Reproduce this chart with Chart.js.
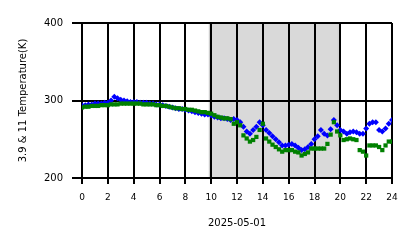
<!DOCTYPE html>
<html>
<head>
<meta charset="utf-8">
<script src="https://cdn.jsdelivr.net/npm/chart.js@4"></script>
<style>
html,body{margin:0;padding:0;background:#fff;}
#c{display:block;}
</style>
</head>
<body>
<canvas id="c" width="418" height="248"></canvas>
<script>
const hours = [0,0.25,0.5,0.75,1,1.25,1.5,1.75,2,2.25,2.5,2.75,3,3.25,3.5,3.75,4,4.25,4.5,4.75,5,5.25,5.5,5.75,6,6.25,6.5,6.75,7,7.25,7.5,7.75,8,8.25,8.5,8.75,9,9.25,9.5,9.75,10,10.25,10.5,10.75,11,11.25,11.5,11.75,12,12.25,12.5,12.75,13,13.25,13.5,13.75,14,14.25,14.5,14.75,15,15.25,15.5,15.75,16,16.25,16.5,16.75,17,17.25,17.5,17.75,18,18.25,18.5,18.75,19,19.25,19.5,19.75,20,20.25,20.5,20.75,21,21.25,21.5,21.75,22,22.25,22.5,22.75,23,23.25,23.5,23.75,24];

const temp39 = [294,294,295,295,296,296,296,297,297,300,305,303,301,300,299,298,298,298,297,297,297,296,296,295,295,294,293,292,291,290,289,289,288,287,286,285,284,283,282,282,281,279,278,277,277,276,275,276,275,272,266,260,257,262,266,272,268,262,258,254,250,246,242,242,243,244,242,239,236,237,240,244,250,254,262,257,255,263,275,268,262,260,257,259,260,259,257,257,264,270,272,272,262,260,264,270,275];

const temp11 = [291,292,292,293,293,293,294,294,294,295,295,295,296,296,296,296,296,296,296,295,295,295,295,294,294,293,293,292,291,290,290,289,289,288,288,287,286,285,285,284,283,281,279,278,277,277,276,270,272,268,255,251,247,249,253,262,270,251,247,243,240,237,234,236,236,236,234,233,229,231,233,238,238,238,238,238,244,256,272,260,255,249,250,251,250,249,236,234,229,242,242,242,240,236,242,247,247];

const xTicks = [0,2,4,6,8,10,12,14,16,18,20,22,24];
const yTicks = [200,300,400];
const shadeStart = 9.85;
const shadeEnd = 19.85;

const pts = arr => arr.map((v,i) => ({x: hours[i], y: v}));

const shadePlugin = {
  id: 'shade',
  beforeDraw(chart) {
    const {ctx, chartArea, scales} = chart;
    const x0 = scales.x.getPixelForValue(shadeStart);
    const x1 = scales.x.getPixelForValue(shadeEnd);
    ctx.save();
    ctx.fillStyle = 'rgba(128,128,128,0.3)';
    ctx.fillRect(x0, chartArea.top, x1 - x0, chartArea.bottom - chartArea.top);
    ctx.strokeStyle = 'rgba(128,128,128,0.3)';
    ctx.lineWidth = 1;
    ctx.strokeRect(x0, chartArea.top, x1 - x0, chartArea.bottom - chartArea.top);
    ctx.restore();
  }
};

new Chart(document.getElementById('c'), {
  type: 'scatter',
  data: {
    datasets: [
      {
        label: '11',
        data: pts(temp11),
        pointStyle: 'rect',
        pointRadius: 3,
        pointBackgroundColor: '#008000',
        pointBorderColor: '#008000',
        pointBorderWidth: 0,
        showLine: false
      },
      {
        label: '3.9',
        data: pts(temp39),
        pointStyle: 'rectRot',
        pointRadius: 3,
        pointBackgroundColor: '#0000ff',
        pointBorderColor: '#0000ff',
        pointBorderWidth: 0,
        showLine: false
      }
    ]
  },
  options: {
    responsive: false,
    animation: false,
    devicePixelRatio: 1,
    layout: {padding: {top: 23, right: 26, bottom: 0, left: 0}},
    plugins: {legend: {display: false}, tooltip: {enabled: false}},
    scales: {
      x: {
        type: 'linear',
        min: 0, max: 24,
        afterBuildTicks: s => { s.ticks = xTicks.map(v => ({value: v})); },
        afterFit: s => { s.height = 70; },
        ticks: {color: '#000', font: {family: 'DejaVu Sans', size: 9}, padding: 8, maxRotation: 0},
        grid: {color: '#000', lineWidth: 2, tickLength: 6},
        border: {color: '#000', width: 2},
        title: {display: true, text: '2025-05-01', color: '#000', font: {family: 'DejaVu Sans', size: 10}, padding: {top: 0, bottom: 19}}
      },
      y: {
        type: 'linear',
        min: 200, max: 400,
        afterBuildTicks: s => { s.ticks = yTicks.map(v => ({value: v})); },
        afterFit: s => { s.width = 82; },
        ticks: {color: '#000', font: {family: 'DejaVu Sans', size: 10}, padding: 9},
        grid: {color: '#000', lineWidth: 2, tickLength: 10},
        border: {color: '#000', width: 2},
        title: {display: true, text: '3.9 & 11 Temperature(K)', color: '#000', font: {family: 'DejaVu Sans', size: 10}, padding: {top: 17, bottom: 0}}
      }
    }
  },
  plugins: [shadePlugin]
});
</script>
</body>
</html>
